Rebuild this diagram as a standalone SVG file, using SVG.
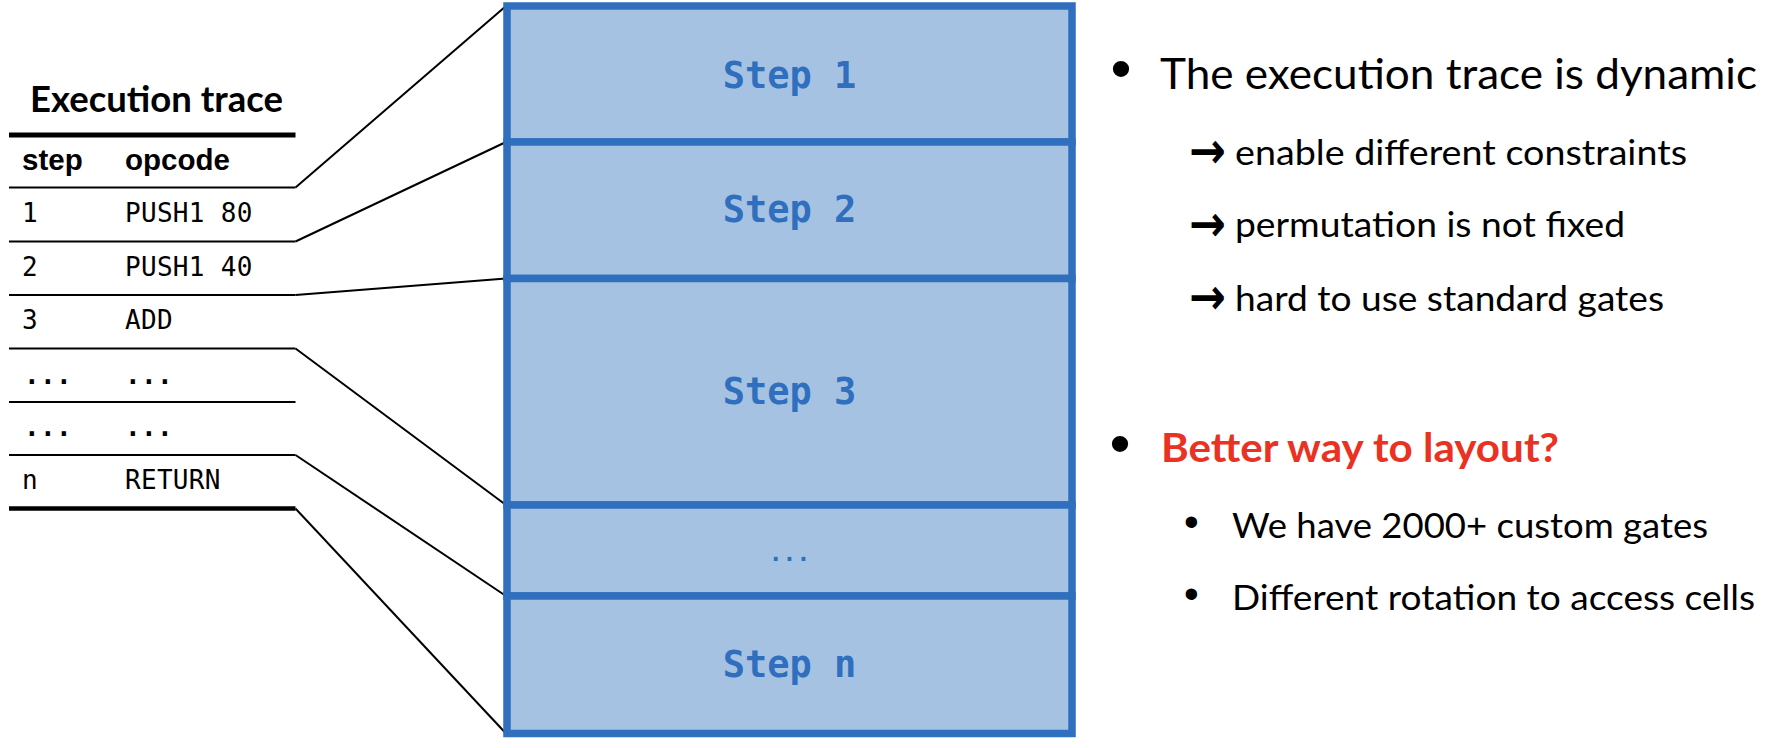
<svg xmlns="http://www.w3.org/2000/svg" width="1768" height="748" viewBox="0 0 1768 748">
<style>
.cell{fill:#A6C2E2;stroke:#2F6FBE;stroke-width:7.5}
.step{font-family:"DejaVu Sans Mono",monospace;font-weight:bold;font-size:37px;fill:#2F6FBE;text-anchor:middle}
.mono{font-family:"DejaVu Sans Mono",monospace;font-size:26px;fill:#000;letter-spacing:0.3px}
.dots{font-weight:bold}
.hdr{font-family:"Liberation Sans",Arial,sans-serif;font-weight:bold;font-size:29.5px;fill:#000}
.title{font-family:Lato,"Open Sans",sans-serif;font-weight:bold;font-size:37px;fill:#000}
.thin{stroke:#000;stroke-width:2.2;fill:none}
.conn{stroke:#000;stroke-width:2;fill:none}
.main{font-family:Lato,"Open Sans",sans-serif;font-size:42px;fill:#000}
.red{font-family:Lato,"Open Sans",sans-serif;font-weight:bold;font-size:40px;fill:#EA3223}
.sub{font-family:Lato,"Open Sans",sans-serif;font-size:35px;fill:#000}
.arr{font-family:"DejaVu Sans",sans-serif;font-weight:bold;font-size:50px;fill:#000}
.bul{font-family:"Liberation Sans",Arial,sans-serif;fill:#000}
</style>

<g id="table">
  <text class="title" x="30" y="112" textLength="253" lengthAdjust="spacingAndGlyphs">Execution trace</text>
  <line x1="9" y1="135" x2="295.5" y2="135" stroke="#000" stroke-width="5"/>
  <text class="hdr" x="22" y="170">step</text>
  <text class="hdr" x="125" y="170">opcode</text>
  <line class="thin" x1="9" y1="187.5" x2="295.5" y2="187.5"/>
  <text class="mono" x="22" y="221.7">1</text>
  <text class="mono" x="125" y="221.7">PUSH1 80</text>
  <line class="thin" x1="9" y1="241.5" x2="295.5" y2="241.5"/>
  <text class="mono" x="22" y="275.5">2</text>
  <text class="mono" x="125" y="275.5">PUSH1 40</text>
  <line class="thin" x1="9" y1="295" x2="295.5" y2="295"/>
  <text class="mono" x="22" y="329">3</text>
  <text class="mono" x="125" y="329">ADD</text>
  <line class="thin" x1="9" y1="348.5" x2="295.5" y2="348.5"/>
  <text class="mono dots" x="24" y="383.5">...</text>
  <text class="mono dots" x="125" y="383.5">...</text>
  <line class="thin" x1="9" y1="402" x2="295.5" y2="402"/>
  <text class="mono dots" x="24" y="436">...</text>
  <text class="mono dots" x="125" y="436">...</text>
  <line class="thin" x1="9" y1="455" x2="295.5" y2="455"/>
  <text class="mono" x="22" y="489">n</text>
  <text class="mono" x="125" y="489">RETURN</text>
  <line x1="9" y1="508.5" x2="295.5" y2="508.5" stroke="#000" stroke-width="4.5"/>
</g>

<g id="connectors">
  <line class="conn" x1="295.5" y1="187.5" x2="506" y2="6"/>
  <line class="conn" x1="295.5" y1="241.5" x2="506" y2="142"/>
  <line class="conn" x1="295.5" y1="295" x2="506" y2="278.5"/>
  <line class="conn" x1="295.5" y1="348.5" x2="506" y2="505"/>
  <line class="conn" x1="295.5" y1="455" x2="506" y2="596"/>
  <line class="conn" x1="295.5" y1="508.5" x2="506" y2="733.5"/>
</g>

<g id="step1"><rect class="cell" x="507" y="6" width="565" height="136"/><text class="step" x="789.5" y="88">Step 1</text></g>
<g id="step2"><rect class="cell" x="507" y="142" width="565" height="136.5"/><text class="step" x="789.5" y="222">Step 2</text></g>
<g id="step3"><rect class="cell" x="507" y="278.5" width="565" height="226.5"/><text class="step" x="789.5" y="404">Step 3</text></g>
<g id="stepdots"><rect class="cell" x="507" y="505" width="565" height="91"/><text x="789.5" y="561" font-family="DejaVu Sans Mono, monospace" font-weight="bold" font-size="23" fill="#2F6FBE" text-anchor="middle">...</text></g>
<g id="stepn"><rect class="cell" x="507" y="596" width="565" height="137.5"/><text class="step" x="789.5" y="677">Step n</text></g>

<g id="notes">
  <text class="bul" x="1110.5" y="88.7" font-size="60">•</text>
  <text class="main" x="1160" y="88.5" textLength="597" lengthAdjust="spacingAndGlyphs">The execution trace is dynamic</text>
  <text class="arr" transform="translate(1189,168) scale(0.88,1)">→</text>
  <text class="sub" x="1235" y="164.5" textLength="452" lengthAdjust="spacingAndGlyphs">enable different constraints</text>
  <text class="arr" transform="translate(1189,240.5) scale(0.88,1)">→</text>
  <text class="sub" x="1235" y="237" textLength="390" lengthAdjust="spacingAndGlyphs">permutation is not fixed</text>
  <text class="arr" transform="translate(1189,314) scale(0.88,1)">→</text>
  <text class="sub" x="1235" y="310.5" textLength="429" lengthAdjust="spacingAndGlyphs">hard to use standard gates</text>

  <text class="bul" x="1109.5" y="463.8" font-size="60">•</text>
  <text class="red" x="1161" y="462" textLength="398" lengthAdjust="spacingAndGlyphs">Better way to layout?</text>
  <text class="bul" x="1184" y="536.3" font-size="42">•</text>
  <text class="sub" x="1232" y="538" textLength="476" lengthAdjust="spacingAndGlyphs">We have 2000+ custom gates</text>
  <text class="bul" x="1184" y="608.4" font-size="42">•</text>
  <text class="sub" x="1232" y="610" textLength="523" lengthAdjust="spacingAndGlyphs">Different rotation to access cells</text>
</g>
</svg>
